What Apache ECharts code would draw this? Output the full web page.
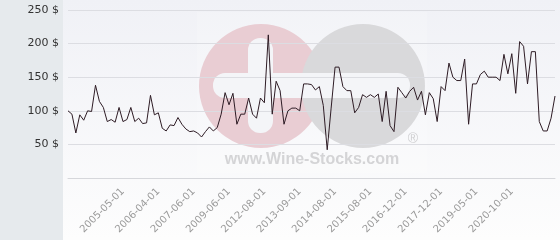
<!DOCTYPE html>
<html>
<head>
<meta charset="utf-8">
<script src="https://cdn.jsdelivr.net/npm/echarts@6/dist/echarts.min.js"></script>
<style>
html,body{margin:0;padding:0;background:#fff;}
#chart{width:560px;height:240px;}
</style>
</head>
<body>
<div id="chart"></div>
<script>
var prices = [
  100, 95, 67, 94, 86, 100, 99, 138, 114, 105,
  84, 87, 83, 105, 84, 87, 105, 84, 89, 81,
  82, 123, 94, 97, 74, 70, 79, 78, 90, 80,
  73, 69, 70, 67, 61, 69, 76, 70, 75, 95,
  127, 109, 126, 80, 95, 95, 119, 95, 89, 119,
  112, 213, 95, 144, 130, 80, 100, 104, 104, 100,
  140, 140, 139, 131, 136, 108, 42, 104, 165, 165,
  136, 130, 130, 97, 105, 124, 120, 124, 120, 125,
  84, 129, 78, 69, 135, 127, 119, 129, 135, 116,
  129, 94, 127, 118, 84, 136, 130, 171, 150, 145,
  145, 177, 80, 140, 140, 154, 159, 150, 150, 150,
  145, 184, 155, 185, 126, 203, 196, 140, 188, 188,
  84, 70, 70, 89, 122
];
// Date tick labels and the observation index where each one sits
var tickLabels = ['2005-05-01','2006-04-01','2007-06-01','2009-06-01','2012-08-01','2013-09-01',
                  '2014-08-01','2015-08-01','2016-12-01','2017-12-01','2019-05-01','2020-10-01'];
var tickIndices = [14, 23, 32, 41, 50, 59, 68, 77, 86, 95, 104, 113];
var yTicks = [0, 50, 100, 150, 200, 250];

var labelAt = {};
tickIndices.forEach(function (idx, k) { labelAt[idx] = tickLabels[k]; });
var categories = prices.map(function (v, i) { return labelAt[i] !== undefined ? labelAt[i] : ''; });

var chart = echarts.init(document.getElementById('chart'), null, {renderer: 'canvas'});
var bgFill = '#f4f5f8';
chart.setOption({
  animation: false,
  backgroundColor: '#ffffff',
  graphic: {
    elements: [
      {type: 'rect', z: -20, shape: {x: 63, y: 0, width: 497, height: 240},
       style: {fill: new echarts.graphic.LinearGradient(0, 0, 0, 1, [
         {offset: 0, color: '#f0f1f6'}, {offset: 1, color: '#fdfdfd'}])}},
      {type: 'rect', z: -20, shape: {x: 0, y: 0, width: 63, height: 240}, style: {fill: '#e6eaed'}},
      {type: 'rect', z: -15, shape: {x: 197, y: 12, width: 230, height: 161}, style: {fill: 'rgba(255,255,255,0.18)'}},
      {type: 'circle', z: -14, shape: {cx: 261, cy: 86, r: 62}, style: {fill: '#e9cdd3'}},
      {type: 'circle', z: -13, shape: {cx: 363, cy: 86, r: 62}, style: {fill: '#d9d9db'}},
      {type: 'rect', z: -12, shape: {x: 248, y: 38, width: 25, height: 95, r: 12}, style: {fill: bgFill}},
      {type: 'rect', z: -12, shape: {x: 213, y: 73, width: 197, height: 25, r: 12}, style: {fill: bgFill}},
      {type: 'text', z: -12, x: 312, y: 160,
       style: {text: 'www.Wine-Stocks.com', fill: '#d4d4d6', font: 'bold 16px "Liberation Sans", Arial, sans-serif',
               align: 'center', verticalAlign: 'middle'}},
      {type: 'text', z: -12, x: 413, y: 139,
       style: {text: '®', fill: '#cfcfd1', font: '14px "Liberation Sans", Arial, sans-serif',
               align: 'center', verticalAlign: 'middle'}}
    ]
  },
  grid: {left: 68, right: 5, top: 10, bottom: 62, containLabel: false},
  xAxis: {
    type: 'category',
    data: categories,
    boundaryGap: false,
    axisLine: {show: true, lineStyle: {color: '#d6d7db', width: 1}},
    axisTick: {show: false},
    splitLine: {show: false},
    axisLabel: {
      interval: function (idx) { return labelAt[idx] !== undefined; },
      rotate: 45,
      margin: 12,
      color: '#9a9a9a',
      fontSize: 10,
      fontFamily: 'DejaVu Sans'
    }
  },
  yAxis: {
    type: 'value',
    min: yTicks[0],
    max: yTicks[yTicks.length - 1],
    interval: 50,
    axisLine: {show: false},
    axisTick: {show: false},
    splitLine: {show: true, lineStyle: {color: '#dcdde2', width: 1}},
    axisLabel: {
      showMinLabel: false,
      formatter: '{value} $',
      color: '#333333',
      fontSize: 11,
      fontFamily: 'DejaVu Sans',
      margin: 9
    }
  },
  series: [{
    type: 'line',
    data: prices,
    showSymbol: false,
    symbol: 'none',
    lineStyle: {color: '#2e1c25', width: 1},
    z: 5
  }]
});
</script>
</body>
</html>
